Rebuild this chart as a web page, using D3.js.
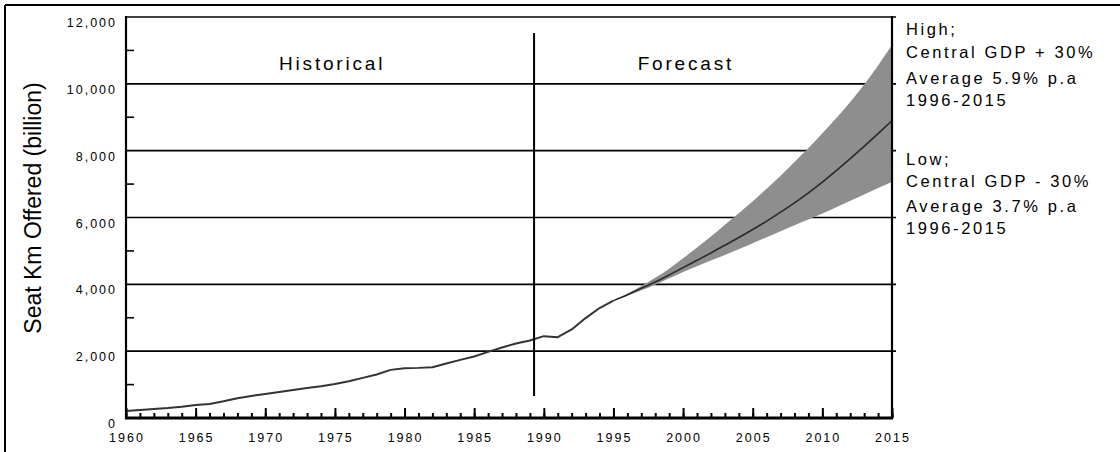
<!DOCTYPE html>
<html>
<head>
<meta charset="utf-8">
<script src="https://cdn.jsdelivr.net/npm/d3@7"></script>
<style>
  html, body { margin: 0; padding: 0; background: #fff; }
  svg { display: block; font-family: "Liberation Sans", Arial, sans-serif; }
</style>
</head>
<body>
<svg id="chart" width="1120" height="452"></svg>
<script>
// ---- data ----
const histYears = [1960,1961,1962,1963,1964,1965,1966,1967,1968,1969,1970,1971,1972,1973,1974,1975,1976,1977,1978,1979,1980,1981,1982,1983,1984,1985,1986,1987,1988,1989,1990,1991,1992,1993,1994,1995];
const histValues = [210,240,270,300,340,390,420,500,590,660,720,780,840,900,950,1020,1100,1200,1300,1440,1490,1500,1520,1630,1740,1840,1980,2110,2230,2320,2450,2420,2650,2990,3290,3510];

const fcYears = [1995,1996,1997,1998,1999,2000,2001,2002,2003,2004,2005,2006,2007,2008,2009,2010,2011,2012,2013,2014,2015];
const fcCentral = [3510,3690,3880,4070,4280,4500,4720,4940,5170,5400,5640,5890,6160,6440,6740,7060,7400,7760,8130,8510,8900];
const fcHigh = [3510,3720,3950,4200,4470,4780,5100,5430,5780,6130,6490,6860,7250,7660,8080,8520,8980,9460,9980,10550,11160];
const fcLow = [3510,3660,3820,3990,4180,4370,4540,4710,4880,5050,5230,5410,5590,5770,5940,6120,6310,6500,6690,6880,7070];

const yTicks = [0,2000,4000,6000,8000,10000,12000];
const yMinorTicks = [1000,3000,5000,7000,9000,11000];
const xTickLabels = [1960,1965,1970,1975,1980,1985,1990,1995,2000,2005,2010,2015];
const dividerYear = 1989.3;
const periodLabels = [{text: "Historical", year: 1974.8}, {text: "Forecast", year: 2000.2}];
const highNote = ["High;", "Central GDP + 30%", "Average 5.9% p.a", "1996-2015"];
const lowNote = ["Low;", "Central GDP - 30%", "Average 3.7% p.a", "1996-2015"];
const yTitle = "Seat Km Offered (billion)";

// ---- layout ----
const svg = d3.select("#chart");
const L = 126, R = 892, T = 17, B = 418;
const x = d3.scaleLinear().domain([1960, 2015]).range([L, R]);
const y = d3.scaleLinear().domain([0, 12000]).range([B, T]);

// outer frame (top + left)
svg.append("line").attr("x1", 5).attr("y1", 5).attr("x2", 1120).attr("y2", 5).attr("stroke", "#000").attr("stroke-width", 2);
svg.append("line").attr("x1", 5).attr("y1", 5).attr("x2", 5).attr("y2", 452).attr("stroke", "#000").attr("stroke-width", 2);

// gridlines
svg.append("g").selectAll("line").data(yTicks.filter(d => d > 0)).join("line")
  .attr("x1", L).attr("x2", R + 4)
  .attr("y1", d => y(d)).attr("y2", d => y(d))
  .attr("stroke", "#000").attr("stroke-width", 1.6);

// band
const fc = fcYears.map((yr, i) => ({yr, c: fcCentral[i], h: fcHigh[i], l: fcLow[i]}));
svg.append("path").datum(fc)
  .attr("d", d3.area().x(d => x(d.yr)).y0(d => y(d.l)).y1(d => y(d.h)).curve(d3.curveMonotoneX))
  .attr("fill", "#8e8e8e");

// central forecast line
svg.append("path").datum(fc)
  .attr("d", d3.line().x(d => x(d.yr)).y(d => y(d.c)).curve(d3.curveMonotoneX))
  .attr("fill", "none").attr("stroke", "#2a2a2a").attr("stroke-width", 1.6);

// historical line
const hist = histYears.map((yr, i) => ({yr, v: histValues[i]}));
svg.append("path").datum(hist)
  .attr("d", d3.line().x(d => x(d.yr)).y(d => y(d.v)))
  .attr("fill", "none").attr("stroke", "#333").attr("stroke-width", 2).attr("stroke-linejoin", "round");

// divider
svg.append("line").attr("x1", x(dividerYear)).attr("x2", x(dividerYear))
  .attr("y1", 33).attr("y2", 396).attr("stroke", "#000").attr("stroke-width", 2);

// axes lines
svg.append("line").attr("x1", L).attr("x2", L).attr("y1", T - 1).attr("y2", B + 1).attr("stroke", "#000").attr("stroke-width", 2.2);
svg.append("line").attr("x1", R).attr("x2", R).attr("y1", T - 1).attr("y2", B + 1).attr("stroke", "#000").attr("stroke-width", 2.2);

// left minor ticks
svg.append("g").selectAll("line").data(yMinorTicks).join("line")
  .attr("x1", L).attr("x2", L + 8)
  .attr("y1", d => y(d)).attr("y2", d => y(d))
  .attr("stroke", "#000").attr("stroke-width", 1.6);

// x axis with D3
const xAxisMinor = d3.axisTop(x).tickValues(d3.range(1960, 2016)).tickSize(5).tickFormat("");
const gxm = svg.append("g").attr("transform", `translate(0,${B})`).call(xAxisMinor);
const xAxisMajor = d3.axisTop(x).tickValues(xTickLabels).tickSize(10).tickFormat("");
const gxM = svg.append("g").attr("transform", `translate(0,${B})`).call(xAxisMajor);
[gxm, gxM].forEach(g => {
  g.select(".domain").remove();
  g.selectAll(".tick line").attr("stroke", "#000").attr("stroke-width", 2);
});
svg.append("line").attr("x1", L - 1).attr("x2", R + 1).attr("y1", B).attr("y2", B).attr("stroke", "#000").attr("stroke-width", 3);

// x labels
svg.append("g").selectAll("text").data(xTickLabels).join("text")
  .attr("x", d => x(d) + 1).attr("y", 442)
  .attr("text-anchor", "middle").attr("font-size", 12.5).attr("letter-spacing", 2)
  .attr("fill", "#000").text(d => d);

// y labels
const fmt = d3.format(",");
svg.append("g").selectAll("text").data(yTicks).join("text")
  .attr("x", 117).attr("y", d => y(d) + 10)
  .attr("text-anchor", "end").attr("font-size", 12.5).attr("letter-spacing", 2)
  .attr("fill", "#000").text(d => fmt(d));

// y title
svg.append("text").attr("transform", `translate(41,208) rotate(-90)`)
  .attr("text-anchor", "middle").attr("font-size", 23).attr("fill", "#000").text(yTitle);

// period labels
svg.append("g").selectAll("text").data(periodLabels).join("text")
  .attr("x", d => x(d.year)).attr("y", 70)
  .attr("text-anchor", "middle").attr("font-size", 19).attr("letter-spacing", 2.8)
  .attr("fill", "#000").text(d => d.text);

// notes
const noteG = svg.append("g").attr("font-size", 16.5).attr("letter-spacing", 2.6).attr("fill", "#000");
const hiY = [35, 58, 84, 106], loY = [165, 187, 212, 234];
noteG.selectAll("text.hi").data(highNote).join("text").attr("class", "hi")
  .attr("x", 906).attr("y", (d, i) => hiY[i]).text(d => d);
noteG.selectAll("text.lo").data(lowNote).join("text").attr("class", "lo")
  .attr("x", 906).attr("y", (d, i) => loY[i]).text(d => d);
</script>
</body>
</html>
